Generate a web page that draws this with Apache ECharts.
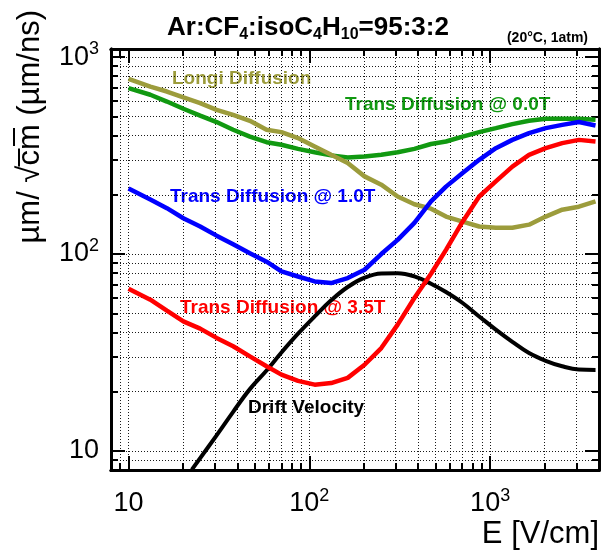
<!DOCTYPE html>
<html><head><meta charset="utf-8">
<script src="https://cdn.jsdelivr.net/npm/echarts@6/dist/echarts.min.js"></script>
<style>html,body{margin:0;padding:0;background:#fff}#c{width:610px;height:550px}</style>
</head><body><div id="c"></div>
<script>
// ---- data (E in V/cm, values in um/sqrt(cm) or um/ns) ----
const E = [10,13.2,16.3,20.1,24.9,30.7,37.9,46.9,58,70.1,86.6,107,132,163,202,250,308,381,471,570,704,870,1075,1327,1641,2029,2504,3096,3827];
const longi   = [776,709,669,624,584,540,509,475,428,416,388,352,319,290,248,225,196,179,170,155,146,138,136,136,141,155,168,174,185];
const trans00 = [696,644,595,547,505,468,428,395,370,359,342,329,317,309,313,319,329,342,362,373,395,416,436,457,475,486,486,486,481];
const trans10 = [215,189,171,152,138,124,112,101,91.4,81.6,76.9,72.6,71.2,75.5,83.2,100,118,144,185,220,258,301,345,380,411,436,453,468,450];
const trans35 = [66.7,58.6,51.6,45.5,41.8,37.5,34.0,30.2,26.9,24.4,22.7,21.7,22.1,23.5,27.4,33.3,43.8,59.8,79.4,105,146,196,234,278,319,345,366,380,373];
const driftE  = [22.4,30.7,37.9,46.9,58,70.1,86.6,107,132,163,202,250,308,381,471,570,704,870,1075,1327,1641,2029,2504,3096,3827];
const drift   = [8.03,12.0,15.8,20.6,25.6,31.6,39.4,48.2,58.2,68.0,75.8,79.7,79.9,77.0,70.7,64.1,56.4,48.2,41.3,35.8,31.4,28.7,26.9,25.9,25.8];

const xRange = [8, 4000];
const yRange = [8, 1100];
const xMajor = [10, 100, 1000];
const xAll   = [9,10,20,30,40,50,60,70,80,90,100,200,300,400,500,600,700,800,900,1000,2000,3000];
const yMajor = [10, 100, 1000];
const yAll   = [9,10,20,30,40,50,60,70,80,90,100,200,300,400,500,600,700,800,900,1000];

const FONT = '"Liberation Sans", Arial, Helvetica, sans-serif';
const C = {longi:'#9c9c3c', t0:'#119911', t1:'#0000ff', t3:'#ff0000', drift:'#000000'};

function fmt(v){
  const p = Math.round(Math.log10(v));
  return p === 1 ? '{m|10}' : '{m|10}{s|' + p + '}';
}
const richLab = {
  m: {fontSize: 27, fontFamily: FONT, color: '#000', lineHeight: 34},
  s: {fontSize: 18, fontFamily: FONT, color: '#000', lineHeight: 18, verticalAlign: 'top'}
};

function axis(dim, pos, ticks, len, opts){
  const r = dim === 'x' ? xRange : yRange;
  return Object.assign({
    type: 'log', logBase: 10, min: r[0], max: r[1], position: pos,
    axisLine: {show: true, onZero: false, lineStyle: {color: '#000', width: 3}},
    axisTick: {show: true, inside: true, length: len, customValues: ticks, lineStyle: {color: '#000', width: 2}},
    axisLabel: {show: false},
    splitLine: {show: false},
    minorTick: {show: false}, minorSplitLine: {show: false},
    axisPointer: {show: false}
  }, opts || {});
}
const gridLine = {show: true, lineStyle: {color: '#000', width: 1, type: [1, 2], opacity: 0.9}};

const xAxes = [
  axis('x', 'bottom', xMajor, 14, {axisLabel: {show: true, customValues: xMajor, formatter: fmt, margin: 17, rich: richLab}}),
  axis('x', 'bottom', xAll, 7, {splitLine: gridLine}),
  axis('x', 'top', xMajor, 14),
  axis('x', 'top', xAll, 7)
];
const yAxes = [
  axis('y', 'left', yMajor, 14, {axisLabel: {show: true, customValues: yMajor, formatter: fmt, margin: 12, rich: richLab}}),
  axis('y', 'left', yAll, 7, {splitLine: gridLine}),
  axis('y', 'right', yMajor, 14),
  axis('y', 'right', yAll, 7)
];

function ser(name, xs, ys, color, w, smooth){
  return {
    name, type: 'line', xAxisIndex: 0, yAxisIndex: 0,
    data: xs.map((x, i) => [x, ys[i]]),
    showSymbol: false, smooth: smooth || false, clip: true,
    lineStyle: {color, width: w}, itemStyle: {color}, silent: true
  };
}

function label(text, x, y, color){
  return {type: 'text', x, y, style: {text, fill: color, font: 'bold 19px ' + FONT, textAlign: 'left', textVerticalAlign: 'middle'}, silent: true};
}

const chart = echarts.init(document.getElementById('c'), null, {renderer: 'canvas'});
chart.setOption({
  animation: false,
  backgroundColor: '#fff',
  grid: {left: 111, top: 49, width: 488, height: 421, containLabel: false, show: false},
  xAxis: xAxes,
  yAxis: yAxes,
  series: [
    ser('Drift Velocity', driftE, drift, C.drift, 4, 0.4),
    ser('Trans Diffusion @ 0.0T', E, trans00, C.t0, 4.5),
    ser('Longi Diffusion', E, longi, C.longi, 4.5),
    ser('Trans Diffusion @ 1.0T', E, trans10, C.t1, 4.5),
    ser('Trans Diffusion @ 3.5T', E, trans35, C.t3, 4.5)
  ],
  graphic: [
    {type: 'text', x: 167, y: 28, silent: true, style: {
      text: '{b|Ar:CF}{u|4}{b|:isoC}{u|4}{b|H}{u|10}{b|=95:3:2}',
      textAlign: 'left', textVerticalAlign: 'middle',
      rich: {
        b: {fontSize: 26, fontWeight: 'bold', fontFamily: FONT, fill: '#000', lineHeight: 30},
        u: {fontSize: 16, fontWeight: 'bold', fontFamily: FONT, fill: '#000', lineHeight: 16, verticalAlign: 'bottom'}
      }
    }},
    {type: 'text', x: 588, y: 38, silent: true, style: {text: '(20°C, 1atm)', fill: '#000', font: 'bold 14px ' + FONT, textAlign: 'right', textVerticalAlign: 'middle'}},
    {type: 'text', x: 599, y: 534, silent: true, style: {text: 'E [V/cm]', fill: '#000', font: '31px ' + FONT, textAlign: 'right', textVerticalAlign: 'middle'}},
    {type: 'text', x: 30, y: 10, rotation: Math.PI / 2, silent: true, style: {text: 'µm/ √c\u0305m\u0305 (µm/ns)', fill: '#000', font: '31px ' + FONT, textAlign: 'right', textVerticalAlign: 'middle'}},
    label('Longi Diffusion', 172, 79, C.longi),
    label('Trans Diffusion @ 0.0T', 345, 105, C.t0),
    label('Trans Diffusion @ 1.0T', 170, 196.5, C.t1),
    label('Trans Diffusion @ 3.5T', 180, 307.5, C.t3),
    label('Drift Velocity', 248, 408, '#000')
  ]
});
</script></body></html>
